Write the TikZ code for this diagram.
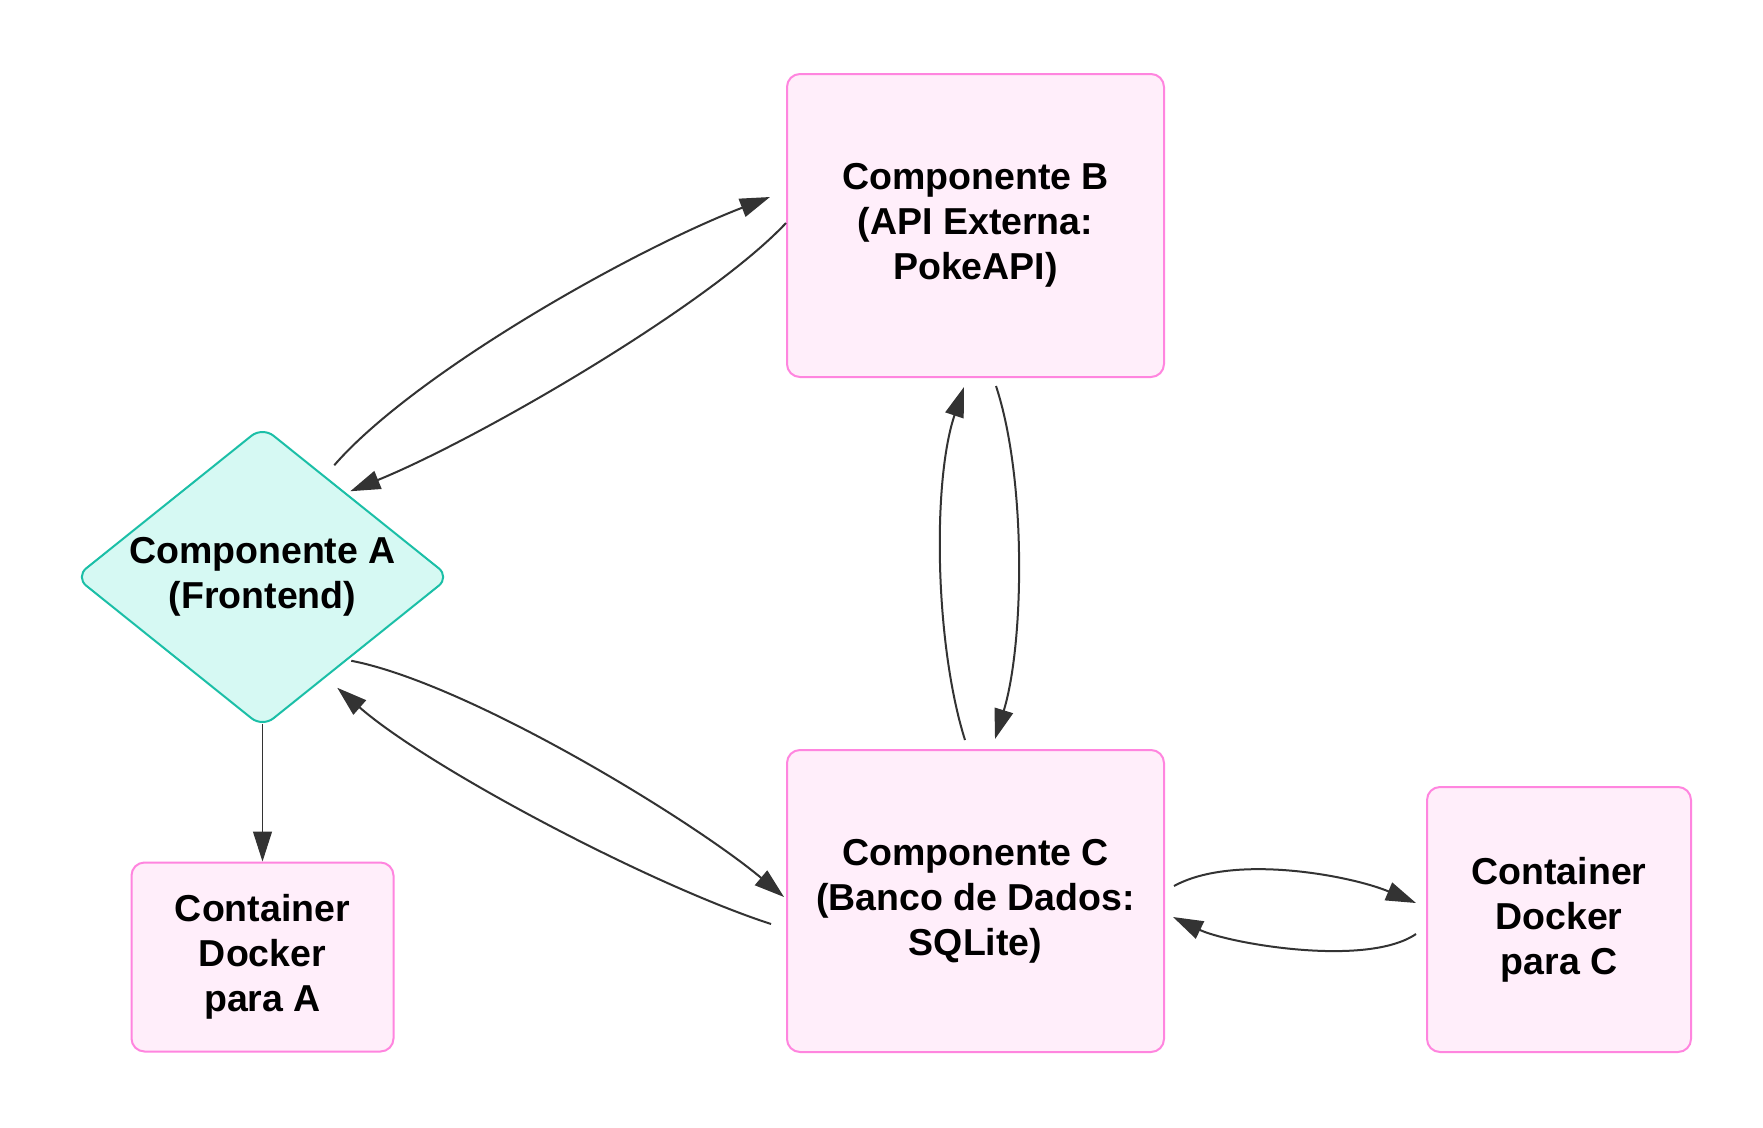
\documentclass[tikz,border=0pt]{standalone}
\usepackage{fontspec}
\setmainfont{Liberation Sans}
\usetikzlibrary{shapes.geometric, arrows.meta, positioning, calc}
\usepackage{xcolor}
\definecolor{PinkFill}{HTML}{FFEEFA}
\definecolor{PinkLine}{HTML}{FF85DF}
\definecolor{TealFill}{HTML}{D6F9F3}
\definecolor{TealLine}{HTML}{1BBFA7}
\definecolor{Gray20}{HTML}{333333}

\begin{document}
\begin{tikzpicture}[
    x=1pt, y=1pt,
    % Global Styles
    font=\fontsize{37.5}{45}\selectfont\bfseries,
    % Styles for the components
    component/.style={
        rectangle,
        rounded corners=13pt,
        draw=PinkLine,
        fill=PinkFill,
        line width=2pt,
        inner sep=0pt,
        align=center
    },
    frontend/.style={
        diamond,
        aspect=1.245,
        rounded corners=14pt,
        draw=TealLine,
        fill=TealFill,
        line width=2pt,
        inner sep=0pt,
        minimum width=375pt,
        minimum height=301pt,
        align=center
    },
    % Connector line style
    conn/.style={
        draw=Gray20,
        -{Triangle[length=30pt,width=19pt]},
        line width=2pt
    }
]

    % Canvas
    \path[use as bounding box, fill=white] (0,0) rectangle (1763,-1127);

    % --- Nodes ---

    % 1. Frontend
    \node[frontend] (front) at (262.5,-577) {Componente A\\(Frontend)};

    % 2. External API
    \node[component, minimum width=377pt, minimum height=303pt] (api) at (975.5,-225.5) {Componente B\\(API Externa:\\PokeAPI)};

    % 3. Database
    \node[component, minimum width=377pt, minimum height=302pt, below=371pt of api] (db) {Componente C\\(Banco de Dados:\\SQLite)};

    % 4. Container for A
    \node[component, minimum width=262pt, minimum height=189pt, below=133pt of front] (dockA) {Container\\Docker\\para A};

    % 5. Container for C
    \node[component, minimum width=264pt, minimum height=265pt, right=261pt of db.south east, anchor=south west] (dockC) {Container\\Docker\\para C};

    % --- Edges ---

    % Frontend -> API
    \draw[conn] ($(front.north east)+(-22.5,36)$) .. controls +(79,91) and +(-140,-54) .. ($(api.west)+(-16,28.5)$);

    % API -> Frontend
    \draw[conn] ($(api.west)+(0,2.5)$) .. controls +(-77,-82) and +(130,53) .. ($(front.north east)+(-6.5,10)$);

    % Frontend -> Database
    \draw[conn] ($(front.south east)+(-5.5,-8)$) .. controls +(118,-23) and +(-92,77) .. ($(db.west)+(-2,4)$);

    % Database -> Frontend
    \draw[conn] ($(db.west)+(-15,-23)$) .. controls +(-123,40) and +(90,-79) .. ($(front.south east)+(-19.5,-35)$);

    % Database -> API
    \draw[conn] ($(db.north)+(-10.5,9)$) .. controls +(-30,95) and +(-32,-95) .. ($(api.south)+(-11.5,-9)$);

    % API -> Database
    \draw[conn] ($(api.south)+(20.5,-8)$) .. controls +(31,-94) and +(29,94) .. ($(db.north)+(19.5,10)$);

    % Database -> Container C
    \draw[conn] ($(db.east)+(9,15)$) .. controls +(60,33) and +(-64,27) .. ($(dockC.west)+(-10,16.5)$);

    % Container C -> Database
    \draw[conn] ($(dockC.west)+(-10,-14.5)$) .. controls +(-50,-34) and +(54,-26) .. ($(db.east)+(8,-16)$);

    % Frontend -> Container A
    \draw[conn, line width=1pt] ([yshift=5pt]front.south) -- (dockA.north);

\end{tikzpicture}
\end{document}
